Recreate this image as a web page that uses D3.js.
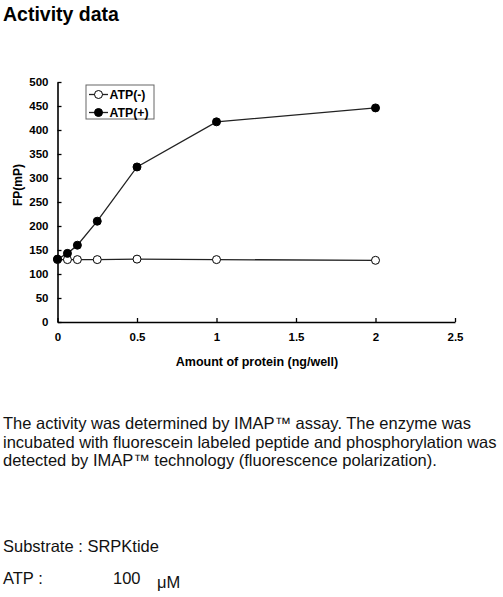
<!DOCTYPE html>
<html><head><meta charset="utf-8">
<script src="https://cdn.jsdelivr.net/npm/d3@7"></script>
<style>body{margin:0;background:#fff;} svg{display:block;}</style>
</head><body>
<script>
const xValues = [0, 0.0625, 0.125, 0.25, 0.5, 1, 2];
const atpMinus = [130, 130, 130, 130, 131, 130, 128.5];
const atpPlus = [131, 143, 160, 210, 323, 417, 446];
const seriesNames = ["ATP(-)", "ATP(+)"];
const xTicks = [0, 0.5, 1, 1.5, 2, 2.5];
const yTicks = [0, 50, 100, 150, 200, 250, 300, 350, 400, 450, 500];
const titleText = "Activity data";
const xTitle = "Amount of protein (ng/well)";
const yTitle = "FP(mP)";
const paragraph = [
  "The activity was determined by IMAP\u2122 assay. The enzyme was",
  "incubated with fluorescein labeled peptide and phosphorylation was",
  "detected by IMAP\u2122 technology (fluorescence polarization)."
];

const W = 503, H = 597;
const svg = d3.select("body").append("svg").attr("width", W).attr("height", H);
const font = "Arial, 'Liberation Sans', sans-serif";

svg.append("text").attr("x", 3).attr("y", 21).attr("font-family", font)
  .attr("font-weight", "bold").attr("font-size", 19.5).text(titleText);

const x = d3.scaleLinear().domain([0, 2.5]).range([57.5, 455]);
const y = d3.scaleLinear().domain([0, 500]).range([322, 82]);

const g = svg.append("g");
const xAxis = g.append("g").attr("transform", `translate(0,${y(0)})`)
  .call(d3.axisBottom(x).tickValues(xTicks).tickSizeInner(-4).tickSizeOuter(0)
    .tickFormat(d => d3.format("")(d)).tickPadding(11));
const yAxis = g.append("g").attr("transform", `translate(${x(0)},0)`)
  .call(d3.axisLeft(y).tickValues(yTicks).tickSizeInner(-4).tickSizeOuter(0).tickPadding(9));
[xAxis, yAxis].forEach(a => {
  a.select(".domain").attr("stroke", "#000").attr("stroke-width", 1.6);
  a.selectAll(".tick line").attr("stroke", "#000").attr("stroke-width", 1.3);
  a.selectAll("text").attr("font-family", font).attr("font-weight", "bold")
    .attr("font-size", 11.5).attr("fill", "#000");
});
xAxis.selectAll("text").attr("dy", "0.71em");

svg.append("text").attr("x", 257).attr("y", 366).attr("text-anchor", "middle")
  .attr("font-family", font).attr("font-weight", "bold").attr("font-size", 12.5).text(xTitle);
svg.append("text").attr("transform", "translate(22,185) rotate(-90)").attr("text-anchor", "middle")
  .attr("font-family", font).attr("font-weight", "bold").attr("font-size", 12).text(yTitle);

const line = d3.line().x((d, i) => x(xValues[i])).y(d => y(d));
const series = [
  {name: seriesNames[0], vals: atpMinus, fill: "#fff"},
  {name: seriesNames[1], vals: atpPlus, fill: "#000"}
];
series.forEach(s => {
  svg.append("path").attr("d", line(s.vals)).attr("fill", "none")
    .attr("stroke", "#222").attr("stroke-width", 1.3);
});
series.forEach(s => {
  svg.append("g").selectAll("circle").data(s.vals).join("circle")
    .attr("cx", (d, i) => x(xValues[i])).attr("cy", d => y(d)).attr("r", 4)
    .attr("fill", s.fill).attr("stroke", "#000").attr("stroke-width", 1);
});

// legend
const leg = svg.append("g");
leg.append("rect").attr("x", 86).attr("y", 85).attr("width", 68).attr("height", 34)
  .attr("fill", "#fff").attr("stroke", "#666").attr("stroke-width", 1);
series.forEach((s, i) => {
  const ly = 94.5 + i * 18;
  leg.append("line").attr("x1", 89).attr("x2", 108).attr("y1", ly).attr("y2", ly)
    .attr("stroke", "#222").attr("stroke-width", 1.3);
  leg.append("circle").attr("cx", 98.5).attr("cy", ly).attr("r", 4)
    .attr("fill", s.fill).attr("stroke", "#000");
  leg.append("text").attr("x", 109.5).attr("y", ly + 4.3).attr("font-family", font)
    .attr("font-weight", "bold").attr("font-size", 12.3).text(s.name);
});

// text block
paragraph.forEach((t, i) => {
  svg.append("text").attr("x", 3).attr("y", 429.3 + i * 18.4).attr("font-family", font)
    .attr("font-size", 16.5).attr("fill", "#111").text(t);
});
svg.append("text").attr("x", 3).attr("y", 551.7).attr("font-family", font)
  .attr("font-size", 16.5).attr("fill", "#111").text("Substrate : SRPKtide");
svg.append("text").attr("x", 3).attr("y", 584).attr("font-family", font)
  .attr("font-size", 16.5).attr("fill", "#111").text("ATP :");
svg.append("text").attr("x", 113).attr("y", 584).attr("font-family", font)
  .attr("font-size", 16.5).attr("fill", "#111").text("100");
svg.append("text").attr("x", 157).attr("y", 588).attr("font-family", font)
  .attr("font-size", 16.5).attr("fill", "#111").text("\u03bcM");
</script>
</body></html>
